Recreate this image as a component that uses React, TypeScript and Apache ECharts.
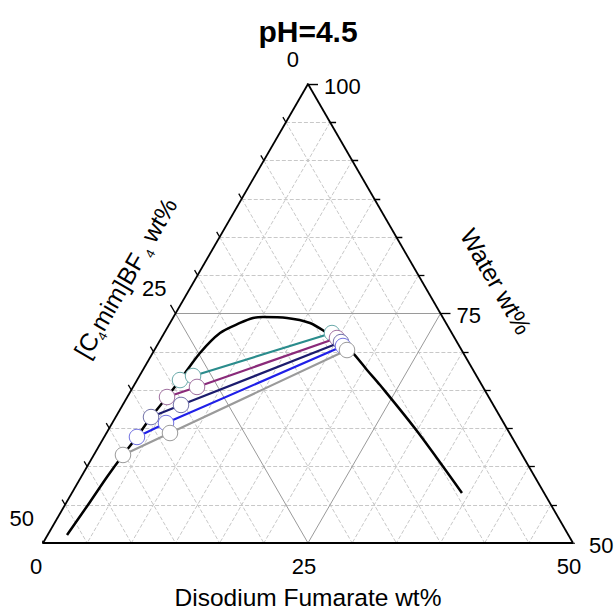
import React, { useEffect, useRef } from 'react';
import * as echarts from 'echarts';

const SQ3 = Math.sqrt(3);
const FONT = "'Liberation Sans', Arial, sans-serif";

// ---- texts / ticks ----
const titleText = 'pH=4.5';
const saltTicks = [0, 25, 50];
const saltTickLabels = ['0', '25', '50'];
const ilTicks = [0, 25, 50];
const ilTickLabels = ['0', '25', '50'];
const waterTicks = [100, 75, 50];
const waterTickLabels = ['100', '75', '50'];
const gridDivisions = 12; // 12 divisions across 0..50

// ---- binodal curve (salt wt%, IL wt%) ----
const binodalSalt = [1.83, 2.2, 2.44, 2.75, 3.09, 3.33, 3.75, 4.05, 4.46, 5.26, 6.6, 7.56, 8.45, 10.76, 13.2, 15.35, 17.07, 18.9, 21.14, 23.19, 29.18, 36.8];
const binodalIL = [47.3, 43.33, 40.37, 37.66, 35.36, 32.95, 30.35, 28.2, 24.84, 21.86, 19.43, 17.93, 16.94, 14.72, 12.83, 11.77, 11.03, 10.41, 10.01, 9.6, 8.62, 7.75];

// ---- tie lines (IL-rich phase, second point, salt-rich phase) ----
const tie1Salt = [4.05, 5.06, 15.83];
const tie1IL = [28.2, 26.75, 11.3];
const tie2Salt = [3.75, 6.03, 16.57];
const tie2IL = [30.35, 26.97, 11.1];
const tie3Salt = [3.33, 5.5, 17.17];
const tie3IL = [32.95, 29.46, 10.94];
const tie4Salt = [3.09, 5.07, 17.57];
const tie4IL = [35.36, 31.86, 10.97];
const tie5Salt = [2.75, 5.99, 18.17];
const tie5IL = [37.66, 32.03, 10.81];

const tieColors = ['#2a8c8c', '#8a2a7a', '#1c1c6e', '#1f1fe8', '#9a9a9a'];
const tieBorders = ['#6aaaaa', '#a070a0', '#7070a8', '#7070e0', '#9a9a9a'];

// composition -> cartesian (edge length 50)
function toXY(s: number, c: number): [number, number] {
  return [25 + (s - c) / 2, ((50 - s - c) * SQ3) / 2];
}

const PX_PER_UNIT = 530 / 50;

function seg(a: [number, number], b: [number, number]) {
  return { coords: [a, b] };
}

export default function App() {
  const ref = useRef<HTMLDivElement>(null);
  useEffect(() => {
    if (!ref.current) return;
    const chart = echarts.init(ref.current, null, { renderer: 'svg' });
    const step = 50 / gridDivisions;

    const dashed: any[] = [];
    const solid: any[] = [];
    for (let k = 1; k < gridDivisions; k++) {
      const v = k * step;
      const lines = [
        seg(toXY(v, 0), toXY(v, 50 - v)), // constant salt
        seg(toXY(0, v), toXY(50 - v, v)), // constant IL
        seg(toXY(0, v), toXY(v, 0)), // constant water
      ];
      if (k === gridDivisions / 2) solid.push(...lines);
      else dashed.push(...lines);
    }

    const ticks: any[] = [];
    for (let k = 0; k <= gridDivisions; k++) {
      const v = k * step;
      const major = k % (gridDivisions / 2) === 0;
      const L = (major ? 10 : 6) / PX_PER_UNIT;
      const pb = toXY(v, 50 - v);
      ticks.push(seg(pb, [pb[0] - 0.5 * L, pb[1] - (SQ3 / 2) * L]));
      const pl = toXY(0, v);
      ticks.push(seg(pl, [pl[0] - 0.5 * L, pl[1] + (SQ3 / 2) * L]));
      const pr = toXY(50 - v, 0);
      ticks.push(seg(pr, [pr[0] + L, pr[1]]));
    }

    const edges = [
      seg(toXY(0, 50), toXY(50, 0)),
      seg(toXY(0, 50), toXY(0, 0)),
      seg(toXY(0, 0), toXY(50, 0)),
    ];

    const ties = [
      [tie1Salt, tie1IL],
      [tie2Salt, tie2IL],
      [tie3Salt, tie3IL],
      [tie4Salt, tie4IL],
      [tie5Salt, tie5IL],
    ];

    const series: any[] = [
      { type: 'lines', coordinateSystem: 'cartesian2d', silent: true, z: 1, data: dashed, lineStyle: { color: '#c8c8c8', width: 1, type: [4, 2], opacity: 1 } },
      { type: 'lines', coordinateSystem: 'cartesian2d', silent: true, z: 2, data: solid, lineStyle: { color: '#9a9a9a', width: 1, type: 'solid', opacity: 1 } },
      { type: 'lines', coordinateSystem: 'cartesian2d', silent: true, z: 3, data: edges, lineStyle: { color: '#000', width: 1.8, opacity: 1 } },
      { type: 'lines', coordinateSystem: 'cartesian2d', silent: true, z: 3, data: ticks, lineStyle: { color: '#000', width: 1.3, opacity: 1 } },
      {
        type: 'line', z: 4, symbol: 'none', smooth: 0.3,
        data: binodalSalt.map((s, i) => toXY(s, binodalIL[i])),
        lineStyle: { color: '#000', width: 2.5 },
      },
    ];
    ties.forEach(([sArr, cArr], i) => {
      series.push({
        type: 'line', z: 5 + i, symbol: 'circle', symbolSize: 15.5,
        data: sArr.map((s, j) => toXY(s, cArr[j])),
        lineStyle: { color: tieColors[i], width: 2.2 },
        itemStyle: { color: '#ffffff', borderColor: tieBorders[i], borderWidth: 1 },
      });
    });

    chart.setOption({
      animation: false,
      title: {
        text: titleText, left: 'center', top: 11,
        textStyle: { fontFamily: FONT, fontSize: 30, fontWeight: 'bold', color: '#000' },
      },
      grid: { left: 43, top: 84, width: 530, height: 459 },
      xAxis: { type: 'value', min: 0, max: 50, show: false },
      yAxis: { type: 'value', min: 0, max: 25 * SQ3, show: false },
      series,
    });

    const P = (xy: [number, number]) => chart.convertToPixel({ gridIndex: 0 }, xy) as number[];
    const graphic: any[] = [];
    const tickFont = `22px ${FONT}`;
    saltTicks.forEach((v, i) => {
      const p = P(toXY(v, 50 - v));
      graphic.push({ type: 'text', x: p[0] - 4 - (i === 0 ? 3 : 0), y: p[1] + 23, style: { text: saltTickLabels[i], font: tickFont, fill: '#000', align: 'center', verticalAlign: 'middle' } });
    });
    ilTicks.forEach((v, i) => {
      const p = P(toXY(0, v));
      graphic.push({ type: 'text', x: p[0] - 9, y: p[1] - 25, style: { text: ilTickLabels[i], font: tickFont, fill: '#000', align: 'right', verticalAlign: 'middle' } });
    });
    waterTicks.forEach((w, i) => {
      const p = P(toXY(100 - w, 0));
      graphic.push({ type: 'text', x: p[0] + 16, y: p[1] + 2, style: { text: waterTickLabels[i], font: tickFont, fill: '#000', align: 'left', verticalAlign: 'middle' } });
    });

    // axis titles
    const titleFont = `24.5px ${FONT}`;
    const bottomMid = P(toXY(25, 25));
    graphic.push({ type: 'text', x: bottomMid[0], y: bottomMid[1] + 54, style: { text: 'Disodium Fumarate wt%', font: titleFont, fill: '#000', align: 'center', verticalAlign: 'middle' } });
    const leftMid = P(toXY(0, 25));
    const d = 61;
    graphic.push({
      type: 'text', x: leftMid[0] - d * (SQ3 / 2) + 3, y: leftMid[1] - d * 0.5 - 5, rotation: Math.PI / 3,
      style: {
        text: '[C{s|4}mim]BF{s| 4} wt%', fill: '#000', align: 'center', verticalAlign: 'middle',
        font: titleFont,
        rich: {
          s: { fontSize: 13, fontFamily: FONT, verticalAlign: 'bottom', lineHeight: 31, fill: '#000' },
        },
      },
    });
    const rightMid = P(toXY(25, 0));
    graphic.push({
      type: 'text', x: rightMid[0] + 64 * (SQ3 / 2), y: rightMid[1] - 64 * 0.5, rotation: -Math.PI / 3,
      style: { text: 'Water wt%', font: titleFont, fill: '#000', align: 'center', verticalAlign: 'middle' },
    });

    chart.setOption({ graphic });
    return () => chart.dispose();
  }, []);
  return <div ref={ref} style={{ position: 'fixed', left: 0, top: 0, width: 616, height: 612, background: '#fff' }} />;
}
